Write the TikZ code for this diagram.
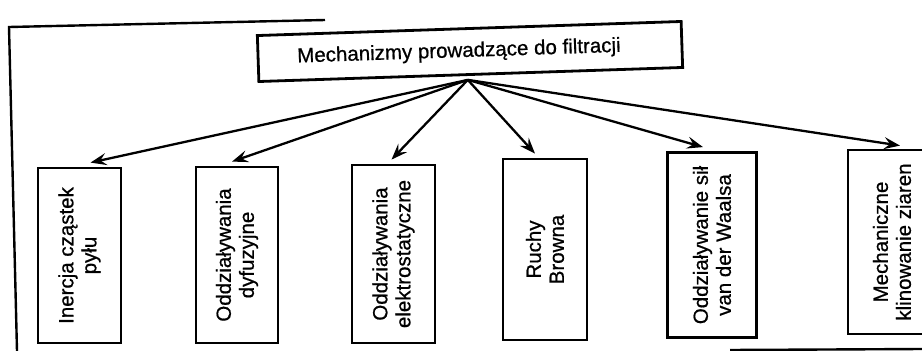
\documentclass[tikz,border=0pt]{standalone}
\usepackage{fontspec}
\setmainfont{Liberation Sans}[FakeBold=0.7]
\usetikzlibrary{arrows.meta,calc}
\begin{document}
\begin{tikzpicture}[x=1pt,y=-1pt,
  mbox/.style={draw,line width=2.8pt,inner sep=0pt,font=\fontsize{20.5}{23}\selectfont,align=center},
  vbox/.style={mbox,rotate=90},
  conn/.style={line width=2.3pt,-{Stealth[length=16pt,width=12pt,inset=6pt]}},
  framestyle/.style={line width=2.4pt}]
\useasboundingbox (0,0) rectangle (922,351);
% outer frame (partly visible)
\coordinate (f1) at (325,20);
\coordinate (f2) at (9,27);
\coordinate (f3) at (17,351);
\coordinate (f4) at (730,350);
\coordinate (f5) at (922,349);
\draw[framestyle] (f1) -- (f2) -- (f3);
\draw[framestyle] (f4) -- (f5);
% top box
\node[mbox,rotate=1.9,minimum width=424pt,minimum height=46pt] (top) at (470,51.5) {\hspace*{-22pt}Mechanizmy prowadzące do filtracji};
\coordinate (apex) at ($(top.south)+(-3,4)$);
% bottom boxes
\node[vbox,minimum width=175pt,minimum height=83pt] (b1) at (79.5,255.5) {Inercja cząstek\\pyłu};
\node[vbox,minimum width=176pt,minimum height=82pt] (b2) at (237,255) {Oddziaływania\\dyfuzyjne};
\node[vbox,minimum width=178pt,minimum height=83pt] (b3) at (393.5,254) {Oddziaływania\\elektrostatyczne};
\node[vbox,minimum width=181pt,minimum height=84pt] (b4) at (545,249.5) {Ruchy\\Browna};
\node[vbox,minimum width=185pt,minimum height=89pt] (b5) at (712,245) {Oddziaływanie sił\\van der Waalsa};
\node[vbox,minimum width=184pt,minimum height=88pt] (b6) at (892,242) {Mechaniczne\\klinowanie ziaren};
% connectors
\draw[conn] (apex) -- ($(b1.east)+(11,-4)$);
\draw[conn] (apex) -- ($(b2.east)+(-5,-4)$);
\draw[conn] (apex) -- ($(b3.east)+(-2,-4)$);
\draw[conn] (apex) -- ($(b4.east)+(-10,-4)$);
\draw[conn] (apex) -- ($(b5.east)+(-9,-4)$);
\draw[conn] (apex) -- ($(b6.east)+(8,-3)$);
\end{tikzpicture}
\end{document}
